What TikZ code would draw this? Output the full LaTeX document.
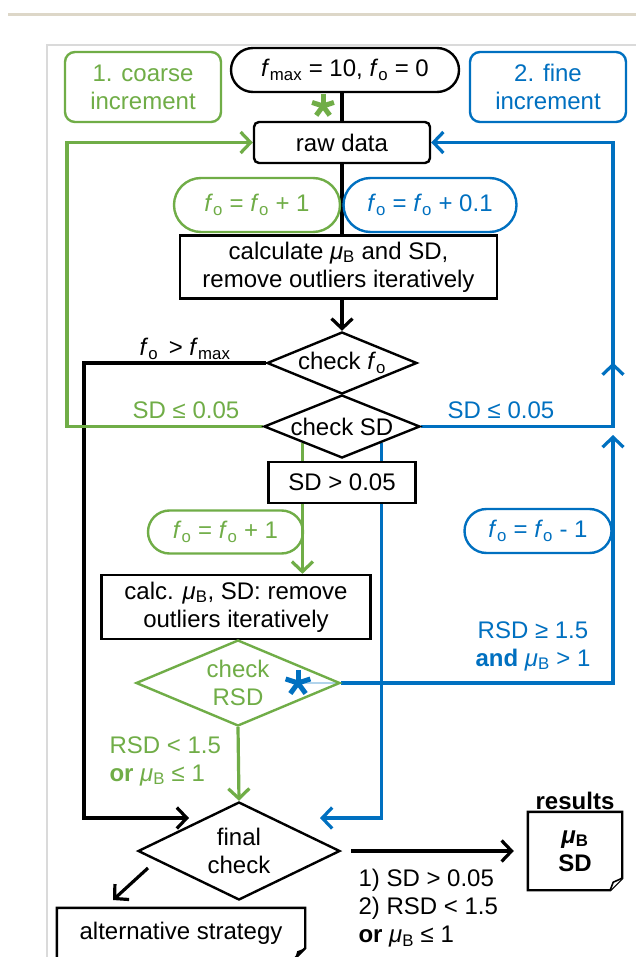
\documentclass[tikz,border=0pt]{standalone}
\usepackage{fontspec}
\setmainfont{Liberation Sans}
\usetikzlibrary{shapes.geometric,shapes.misc,arrows.meta,calc}
\definecolor{grn}{RGB}{112,173,71}
\definecolor{blu}{RGB}{0,112,192}
\definecolor{tanline}{RGB}{221,215,200}
\definecolor{framegray}{RGB}{218,218,218}
\newcommand{\myfont}{\fontsize{24}{28}\selectfont}
\newcommand{\fsubo}{\textit{f}\textsubscript{o}}
\newcommand{\fsubmax}{\textit{f}\textsubscript{max}}
\newcommand{\muB}{\textit{μ}\textsubscript{B}}
\pgfdeclarelayer{bg}
\pgfsetlayers{bg,main}
\tikzset{
  every node/.style={font=\myfont},
  box/.style={draw, line width=2.4pt, inner sep=0pt, align=center},
  stad/.style={rounded rectangle, draw, line width=2.4pt, inner sep=0pt, align=center},
  diam/.style={diamond, draw, line width=2.4pt, inner sep=0pt},
  conn/.style={line width=3.2pt},
  arr/.style={-{Straight Barb[length=10pt,width=21pt]}},
  astspoke/.style={line width=5pt},
}
\begin{document}
\begin{tikzpicture}[x=1pt,y=-1pt]
\useasboundingbox (0,0) rectangle (635,957);

% nodes
\node[box, rounded corners=10pt, draw=grn, text=grn, minimum width=156pt, minimum height=70pt] (coarse) at (143,87) {1. coarse\\increment};
\node[stad, minimum width=228pt, minimum height=44pt] (start) at (345,70) {\fsubmax{} = 10, \fsubo{} = 0};
\node[box, rounded corners=10pt, draw=blu, text=blu, minimum width=156pt, minimum height=70pt] (fine) at (548,87) {2. fine\\increment};
\node[box, rounded corners=5pt, minimum width=176pt, minimum height=41pt] (raw) at (342,142.5) {raw data};
\node[stad, draw=grn, text=grn, minimum width=166pt, minimum height=54pt] (inca) at (257,205) {\fsubo{} = \fsubo{} + 1};
\node[stad, draw=blu, text=blu, minimum width=173pt, minimum height=54pt] (incb) at (430,205) {\fsubo{} = \fsubo{} + 0.1};
\node[box, minimum width=317pt, minimum height=63pt] (calc) at (338.5,267) {calculate \muB{} and SD,\\remove outliers iteratively};
\node[diam, minimum width=150pt, minimum height=62pt, label={center:check \fsubo}] (cfo) at (342,363) {};
\node[diam, minimum width=156pt, minimum height=63pt, label={center:check SD}] (csd) at (342,426.5) {};
\node[box, fill=white, minimum width=147pt, minimum height=41pt] (sdb) at (342,482.5) {SD > 0.05};
\node[stad, draw=grn, text=grn, minimum width=155pt, minimum height=43pt] (incc) at (225.5,532) {\fsubo{} = \fsubo{} + 1};
\node[stad, draw=blu, text=blu, minimum width=147pt, minimum height=44pt] (dec) at (538,531) {\fsubo{} = \fsubo{} - 1};
\node[box, minimum width=269pt, minimum height=64pt] (calc2) at (236,607) {calc. \muB, SD: remove\\outliers iteratively};
\node[diam, draw=grn, minimum width=204pt, minimum height=86pt, label={[text=grn, align=center]center:check\\RSD}] (rsd) at (238,683) {};
\node[diam, minimum width=202pt, minimum height=98pt, label={[align=center]center:final\\check}] (final) at (239,851) {};
\node[inner sep=0pt, minimum width=94pt, minimum height=78pt, align=center, font=\myfont\bfseries,
      label={[font=\myfont\bfseries, inner sep=2pt]above:results}] (res) at (575,851) {\muB\\SD};
\node[inner sep=0pt, minimum width=248pt, minimum height=50pt] (alt) at (181,933) {alternative strategy};

% labels
\node[text=grn] (lsdg) at (186,410) {SD ≤ 0.05};
\node[text=blu] (lsdb) at (501,410) {SD ≤ 0.05};
\node (lfo) at (185,349) {\fsubo{}\, > \fsubmax};
\node[text=blu, align=center] (lrsdb) at (533,646) {RSD ≥ 1.5\\\textbf{and} \muB{} > 1};
\node[text=grn, align=left, anchor=west] (lrsdg) at (106,761) {RSD < 1.5\\\textbf{or} \muB{} ≤ 1};
\node[align=left, anchor=west] (lres) at (355,908) {1) SD > 0.05\\2) RSD < 1.5\\\textbf{or} \muB{} ≤ 1};

% results note and alternative box outlines
\draw[line width=2.4pt] (res.north west) -- (res.north east) -- ($(res.south east)+(0,-12)$)
  -- ($(res.south east)+(-12,0)$) -- (res.south west) -- cycle;
\draw[line width=1.6pt, fill=white] ($(res.south east)+(0,-12)$) -- ($(res.south east)+(-9,-8)$) -- ($(res.south east)+(-12,0)$);
\draw[line width=2.4pt] (alt.north west) -- (alt.north east) -- ($(alt.south east)+(0,-10)$)
  -- ($(alt.south east)+(-10,0)$) -- (alt.south west) -- cycle;
\fill ($(alt.south east)+(0,-10)$) -- ($(alt.south east)+(-8,-7)$) -- ($(alt.south east)+(-10,0)$) -- cycle;

% asterisks
\coordinate (astg) at (323,106);
\coordinate (astb) at (298,683);
\foreach \a in {270,198,342,126,54} {
  \draw[grn, astspoke] (astg) -- ++(\a:11.5);
  \draw[blu, astspoke] (astb) -- ++(\a:13);
}

% connector coordinates
\coordinate (kL) at (84,818);
\coordinate (finL) at (189,818);
\coordinate (finR) at (320,818);
\coordinate (gL) at (67,142.5);
\coordinate (bR) at (613,142.5);
\coordinate (bR2) at (613,435);
\coordinate (dA) at (148,868);
\coordinate (dB) at (113,900);

\begin{pgfonlayer}{bg}
\fill[white] (0,0) rectangle (635,957);
\draw[tanline, line width=3pt] (8,15) -- (640,15);
\draw[framegray, line width=1.5pt] (47,970) -- (47,45) -- (640,45);
\draw[conn] (raw.north |- start.south) -- (raw.north);
\draw[conn] (raw.south) -- (raw.south |- calc.north);
\draw[conn, arr] (cfo.north |- calc.south) -- (cfo.north);
\draw[conn, arr] (cfo.west) -| (kL) -- (finL);
\draw[conn, grn, arr] (csd.west) -| (gL) -- (raw.west);
\draw[conn, blu, arr] (csd.east) -| (bR) -- (raw.east);
\draw[conn, blu, arr] (csd.east -| bR) -- ++(0,-64);
\draw[conn, grn, arr] (csd.south west) -- (csd.south west |- calc2.north);
\draw[conn, blu, arr] (csd.south east) |- (finR);
\draw[conn, blu, arr] (rsd.east) -| (bR2);
\draw[blu!30, line width=2pt] (astb) -- (rsd.east);
\draw[conn, grn, arr] (rsd.south) -- (final.north);
\draw[conn, arr, shorten <=10pt, shorten >=14pt] (final.east) -- (res.west);
\draw[conn, arr] (dA) -- (dB);
\end{pgfonlayer}
\end{tikzpicture}
\end{document}
